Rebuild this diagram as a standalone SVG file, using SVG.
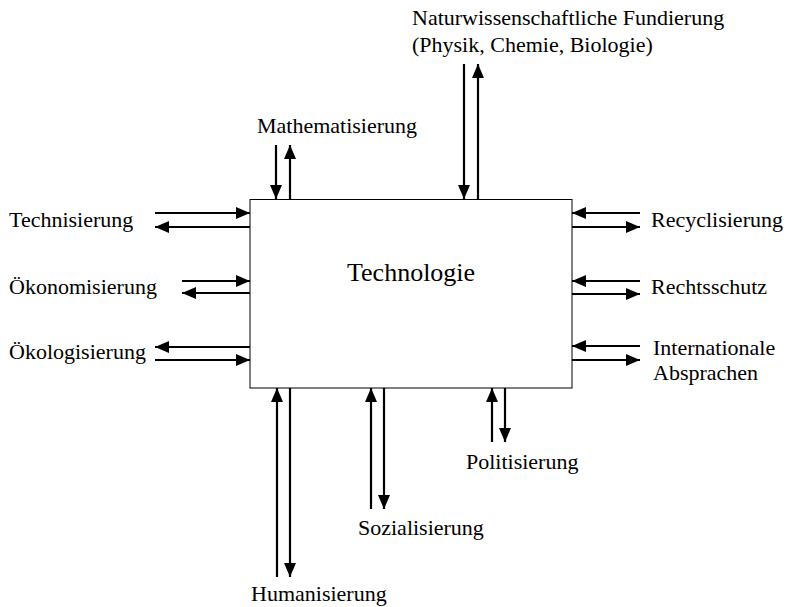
<svg xmlns="http://www.w3.org/2000/svg" width="787" height="607" viewBox="0 0 787 607">
<style>
text{font-family:"Liberation Serif","Times New Roman",serif;font-size:22px;fill:#000}
.big{font-size:26px}
.a{stroke:#000;stroke-width:2.2;fill:none;marker-end:url(#ah)}
</style>
<defs>
<marker id="ah" markerUnits="userSpaceOnUse" markerWidth="14" markerHeight="12" viewBox="0 0 14 12" refX="14" refY="6" orient="auto">
<path d="M0,0L14,6L0,12Z" fill="#000"/>
</marker>
</defs>
<rect width="787" height="607" fill="#fff"/>
<g id="technologie">
<rect x="250" y="199.5" width="322" height="188.5" fill="#fff" stroke="#000" stroke-width="1"/>
<text class="big" x="347" y="281">Technologie</text>
</g>
<g id="labels">
<text x="412" y="25">Naturwissenschaftliche Fundierung</text>
<text x="412" y="52">(Physik, Chemie, Biologie)</text>
<text x="257" y="133">Mathematisierung</text>
<text x="9" y="227">Technisierung</text>
<text x="9" y="294">Ökonomisierung</text>
<text x="9" y="359">Ökologisierung</text>
<text x="651" y="227">Recyclisierung</text>
<text x="651" y="294">Rechtsschutz</text>
<text x="653" y="355">Internationale</text>
<text x="653" y="380">Absprachen</text>
<text x="466" y="469">Politisierung</text>
<text x="358" y="535">Sozialisierung</text>
<text x="251" y="601">Humanisierung</text>
</g>
<g id="connectors">
<path class="a" d="M276,145V199"/>
<path class="a" d="M290,199V145"/>
<path class="a" d="M464,64V199"/>
<path class="a" d="M478,199V64"/>
<path class="a" d="M155,213H250"/>
<path class="a" d="M250,227H155"/>
<path class="a" d="M182,281H250"/>
<path class="a" d="M250,293H182"/>
<path class="a" d="M250,347H155"/>
<path class="a" d="M155,360H250"/>
<path class="a" d="M640,213H572"/>
<path class="a" d="M572,227H640"/>
<path class="a" d="M640,281H572"/>
<path class="a" d="M572,294H640"/>
<path class="a" d="M640,346H572"/>
<path class="a" d="M572,360H640"/>
<path class="a" d="M277,577V388"/>
<path class="a" d="M290,388V577"/>
<path class="a" d="M371,509V388"/>
<path class="a" d="M384,388V509"/>
<path class="a" d="M492,442V388"/>
<path class="a" d="M505,388V442"/>
</g>
</svg>
